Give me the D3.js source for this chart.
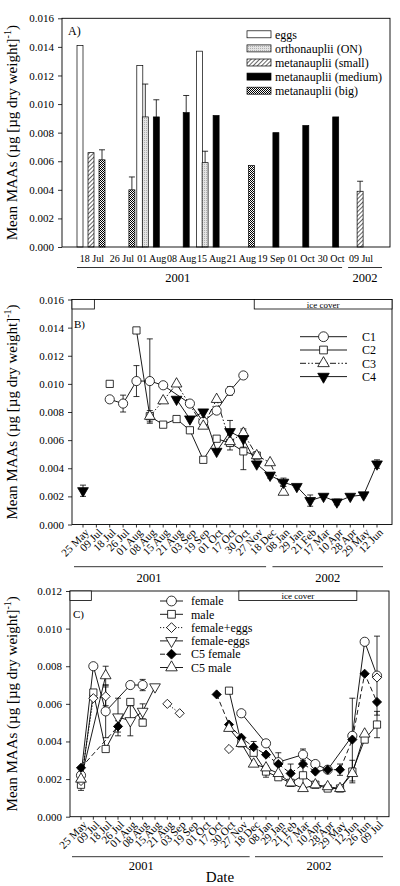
<!DOCTYPE html>
<html><head><meta charset="utf-8">
<script src="https://cdn.jsdelivr.net/npm/d3@7"></script>
<style>
body{margin:0;background:#fff}
svg{display:block}
text{font-family:"Liberation Serif","Times New Roman",serif;fill:#000}
</style>
</head><body>
<svg id="chart" width="400" height="886"></svg>
<script>
// ---------------- DATA ----------------
// Panel A (bar chart)
const datesA = ["18 Jul","26 Jul","01 Aug","08 Aug","15 Aug","21 Aug","19 Sep","01 Oct","30 Oct","09 Jul"];
const seriesA = ["eggs","orthonauplii (ON)","metanauplii (small)","metanauplii (medium)","metanauplii (big)"];
const aEggs    = [0.0141, null, 0.0127, null, 0.0137, null, null, null, null, null];
const aON      = [null, null, 0.0091, null, 0.0059, null, null, null, null, null];
const aONErr   = [null, null, 0.0023, null, 0.0008, null, null, null, null, null];
const aSmall   = [0.0066, null, null, null, null, null, null, null, null, 0.0039];
const aSmallErr= [null, null, null, null, null, null, null, null, null, 0.0007];
const aMedium  = [null, null, 0.0091, 0.0094, 0.0092, null, 0.0080, 0.0085, 0.0091, null];
const aMediumErr=[null, null, 0.0012, 0.0012, null, null, null, null, null, null];
const aBig     = [0.0061, 0.0040, null, null, null, 0.0057, null, null, null, null];
const aBigErr  = [0.0007, 0.0009, null, null, null, null, null, null, null, null];
const yearsA = [{year:"2001", from:0, to:8}, {year:"2002", from:9, to:9}];

// Panel B (copepodite stages)
const datesB = ["25 May","09 Jul","18 Jul","26 Jul","01 Aug","08 Aug","15 Aug","21 Aug","03 Sep","19 Sep","01 Oct","17 Oct","30 Oct","27 Nov","18 Dec","08 Jan","29 Jan","21 Feb","17 Mar","10 Apr","28 Apr","29 May","12 Jun"];
const bC1    = [null,null,0.0089,0.0086,0.0102,0.0102,0.0099,null,0.0086,0.0073,0.0081,0.0095,0.0106,null,null,null,null,null,null,null,null,null,null];
const bC1Err = [null,null,null,0.0006,0.0011,0.0030,null,null,null,null,null,0.0003,null,null,null,null,null,null,null,null,null,null,null];
const bC2    = [null,null,0.0100,null,0.0138,0.0077,0.0071,0.0075,0.0067,0.0046,0.0061,0.0058,0.0052,0.0049,null,null,null,null,null,null,null,null,null];
const bC2Err = [null,null,null,null,null,null,null,null,null,null,null,null,0.0013,null,null,null,null,null,null,null,null,null,null];
const bC3    = [null,null,null,null,null,0.0077,0.0088,0.0100,null,0.0070,0.0089,0.0059,0.0065,0.0049,0.0044,0.0023,null,null,null,null,null,null,null];
const bC3Err = [null,null,null,null,null,0.0004,null,null,null,null,null,0.0006,0.0003,null,null,null,null,null,null,null,null,null,null];
const bC4    = [0.0024,null,null,null,null,null,null,0.0089,0.0075,0.0080,0.0052,0.0066,0.0061,0.0043,0.0035,0.0030,0.0027,0.0017,0.0020,0.0016,0.0020,0.0021,0.0043];
const bC4Err = [0.0004,null,null,null,null,null,null,null,null,null,null,0.0008,0.0006,null,0.0002,0.0003,null,0.0004,null,0.0002,null,null,0.0003];
const yearsB = [{year:"2001", from:0, to:14}, {year:"2002", from:15, to:22}];
const iceB = [{from:null, to:1, label:""}, {from:13, to:null, label:"ice cover"}];

// Panel C (adults & C5)
const datesC = ["25 May","09 Jul","18 Jul","26 Jul","01 Aug","08 Aug","15 Aug","21 Aug","03 Sep","19 Sep","01 Oct","17 Oct","30 Oct","27 Nov","18 Dec","08 Jan","29 Jan","21 Feb","17 Mar","10 Apr","28 Apr","29 May","12 Jun","26 Jun","09 Jul"];
const cFemale    = [0.0022,0.0080,0.0056,null,0.0070,0.0070,null,null,null,null,null,null,null,0.0055,null,0.0039,0.0029,null,0.0033,0.0028,0.0025,null,0.0043,0.0093,0.0075];
const cFemaleErr = [null,null,0.0014,null,null,0.0003,null,null,null,null,null,null,null,null,null,null,null,null,0.0003,null,null,null,null,null,0.0021];
const cMale      = [0.0017,0.0066,0.0036,null,0.0061,0.0050,null,null,null,null,null,null,0.0067,0.0039,0.0034,0.0024,0.0021,0.0018,0.0022,0.0017,0.0015,0.0015,0.0024,0.0041,0.0049];
const cMaleErr   = [0.0003,null,null,null,null,null,null,null,null,null,null,null,null,null,null,0.0003,null,null,0.0006,null,null,null,0.0006,null,0.0007];
const cFemEggs   = [0.0019,0.0063,0.0064,null,null,null,null,0.0060,0.0055,null,null,null,0.0036,null,null,null,null,null,null,null,null,null,null,null,0.0074];
const cFemEggsErr= [null,null,0.0005,null,null,null,null,null,null,null,null,null,null,null,null,null,null,null,null,null,null,null,null,null,null];
const cFemNoEggs = [null,null,null,0.0053,0.0051,0.0056,0.0069,null,null,null,null,null,null,null,null,null,null,null,null,null,null,null,null,null,null];
const cFemNoEggsErr=[null,null,null,0.0010,0.0008,0.0004,null,null,null,null,null,null,null,null,null,null,null,null,null,null,null,null,null,null,null];
const cC5Female  = [0.0026,null,null,0.0048,null,null,null,null,null,null,null,0.0065,0.0049,0.0042,0.0037,0.0033,0.0028,0.0023,0.0028,0.0024,0.0025,0.0025,0.0041,0.0076,0.0061];
const cC5FemaleErr=[null,null,null,0.0003,null,null,null,null,null,null,null,null,null,null,0.0003,null,0.0006,0.0005,null,null,null,0.0003,0.0022,null,null];
const cC5Male    = [0.0020,null,0.0075,null,null,null,null,null,null,null,null,null,0.0047,0.0039,0.0028,0.0026,0.0023,0.0018,0.0015,0.0017,0.0016,0.0015,0.0023,0.0044,null];
const cC5MaleErr = [null,null,0.0005,null,null,null,null,null,null,null,null,null,null,null,null,null,null,null,null,null,null,null,null,null,null];
const yearsC = [{year:"2001", from:0, to:14}, {year:"2002", from:15, to:24}];
const iceC = [{from:null, to:1, label:""}, {from:13, to:22, label:"ice cover"}];

const ticksA = [0,0.002,0.004,0.006,0.008,0.010,0.012,0.014,0.016];
const ticksB = ticksA;
const ticksC = [0,0.002,0.004,0.006,0.008,0.010,0.012];

// ---------------- DRAW ----------------
const svg = d3.select("#chart");
svg.append("rect").attr("width",400).attr("height",886).attr("fill","#fff");
const defs = svg.append("defs");

const pON = defs.append("pattern").attr("id","pON").attr("patternUnits","userSpaceOnUse").attr("width",2).attr("height",2);
pON.append("rect").attr("width",2).attr("height",2).attr("fill","#e4e4e4");
pON.append("rect").attr("width",1).attr("height",1).attr("fill","#b0b0b0");
const pSmall = defs.append("pattern").attr("id","pSmall").attr("patternUnits","userSpaceOnUse").attr("width",3).attr("height",3).attr("patternTransform","rotate(45)");
pSmall.append("rect").attr("width",3).attr("height",3).attr("fill","#fff");
pSmall.append("line").attr("x1",0).attr("y1",0).attr("x2",0).attr("y2",3).attr("stroke","#000").attr("stroke-width",1.2);
const pBig = defs.append("pattern").attr("id","pBig").attr("patternUnits","userSpaceOnUse").attr("width",2).attr("height",2);
pBig.append("rect").attr("width",2).attr("height",2).attr("fill","#fff");
pBig.append("rect").attr("width",1).attr("height",1).attr("fill","#000");
pBig.append("rect").attr("x",1).attr("y",1).attr("width",1).attr("height",1).attr("fill","#000");

const fillsA = {"eggs":"#fff","orthonauplii (ON)":"url(#pON)","metanauplii (small)":"url(#pSmall)","metanauplii (medium)":"#000","metanauplii (big)":"url(#pBig)"};
const valsA = {"eggs":[aEggs,null],"orthonauplii (ON)":[aON,aONErr],"metanauplii (small)":[aSmall,aSmallErr],"metanauplii (medium)":[aMedium,aMediumErr],"metanauplii (big)":[aBig,aBigErr]};

function yTitle(cy){
  const t = svg.append("text").attr("transform",`translate(17,${cy}) rotate(-90)`).attr("text-anchor","middle").attr("font-size",15);
  t.append("tspan").text("Mean MAAs (µg [µg dry weight]");
  t.append("tspan").attr("font-size",10).attr("dy",-6).text("-1");
  t.append("tspan").attr("dy",6).text(")");
}
function leftAxis(y, x0, ticks){
  const g = svg.append("g").attr("transform",`translate(${x0},0)`)
    .call(d3.axisLeft(y).tickValues(ticks).tickFormat(d3.format(".3f")).tickSize(4).tickPadding(4));
  g.select(".domain").remove();
  g.selectAll("text").attr("font-size",11).attr("font-family","Liberation Serif");
  g.selectAll("line").attr("stroke","#000").attr("stroke-width",0.8);
}
function frame(x0,x1,y0,y1){
  svg.append("rect").attr("x",x0).attr("y",y1).attr("width",x1-x0).attr("height",y0-y1)
    .attr("fill","none").attr("stroke","#000").attr("stroke-width",0.9);
}

// ===== Panel A =====
const A = {l:62, r:390, t:18.3, b:247};
const xA = d3.scaleBand().domain(d3.range(datesA.length)).range([77, 376]).padding(0);
const xA1 = d3.scaleBand().domain(seriesA).range([0, 27.5]);
const yA = d3.scaleLinear().domain([0,0.016]).range([A.b, A.t]);
const barW = 6;
const gA = svg.append("g");
seriesA.forEach(s=>{
  const [vals, errs] = valsA[s];
  datesA.forEach((d,i)=>{
    const v = vals[i]; if(v==null) return;
    const bx = xA(i)+xA1(s);
    if(errs && errs[i]!=null){
      const cx = bx+barW/2;
      gA.append("line").attr("x1",cx).attr("x2",cx).attr("y1",yA(v)).attr("y2",yA(v+errs[i])).attr("stroke","#000").attr("stroke-width",0.8);
      gA.append("line").attr("x1",cx-3).attr("x2",cx+3).attr("y1",yA(v+errs[i])).attr("y2",yA(v+errs[i])).attr("stroke","#000").attr("stroke-width",0.8);
    }
    gA.append("rect").attr("x",bx).attr("y",yA(v)).attr("width",barW).attr("height",yA(0)-yA(v))
      .attr("fill",fillsA[s]).attr("stroke","#000").attr("stroke-width",0.7);
  });
});
frame(A.l,A.r,A.b,A.t);
leftAxis(yA, A.l, ticksA);
yTitle((A.t+A.b)/2);
svg.append("text").attr("x",68).attr("y",35).attr("font-size",12).text("A)");
datesA.forEach((d,i)=>{
  svg.append("text").attr("x",xA(i)+xA.bandwidth()/2).attr("y",262).attr("text-anchor","middle").attr("font-size",10).text(d);
});
yearsA.forEach((yr,k)=>{
  const x0 = xA(yr.from) + (k===0?0:2), x1 = xA(yr.to)+xA.bandwidth() + (k===0?-4:6);
  svg.append("line").attr("x1",x0).attr("x2",x1).attr("y1",267.5).attr("y2",267.5).attr("stroke","#000").attr("stroke-width",0.8);
  svg.append("text").attr("x",x0+(x1-x0)*(k===0?0.38:0.5)).attr("y",281.5).attr("text-anchor","middle").attr("font-size",12.5).text(yr.year);
});
seriesA.forEach((s,k)=>{
  const ly = 34.3 + k*14.1;
  svg.append("rect").attr("x",247).attr("y",ly-3.5).attr("width",24).attr("height",7).attr("fill",fillsA[s]).attr("stroke","#000").attr("stroke-width",0.7);
  svg.append("text").attr("x",275).attr("y",ly).attr("dy","0.35em").attr("font-size",12).text(s);
});

// ===== symbol helpers =====
function symPath(kind, size){
  const map = {circle:d3.symbolCircle, square:d3.symbolSquare, tri:d3.symbolTriangle, triDown:d3.symbolTriangle, diamond:d3.symbolSquare};
  return d3.symbol().type(map[kind]).size(size)();
}
function symRot(kind){ return kind==="triDown" ? 180 : (kind==="diamond" ? 45 : 0); }
const symSize = {circle:66, square:52, tri:50, triDown:50, diamond:42};

function drawLinePanel(cfg){
  const {x, y, dates, series} = cfg;
  const g = svg.append("g");
  const prepared = series.map(s=>{
    const pts = dates.map((d,i)=>({i, v:s.values[i], e:s.err?s.err[i]:null})).filter(p=>p.v!=null);
    const segs=[]; let cur=[];
    pts.forEach((p,k)=>{ if(k>0 && p.i-pts[k-1].i > s.maxGap){ segs.push(cur); cur=[]; } cur.push(p); });
    if(cur.length) segs.push(cur);
    return {s, pts, segs};
  });
  const line = d3.line().x(p=>x(p.i)).y(p=>y(p.v));
  prepared.forEach(({s,segs})=>{
    segs.filter(sg=>sg.length>1).forEach(sg=>{
      g.append("path").attr("d",line(sg)).attr("fill","none").attr("stroke","#000").attr("stroke-width",0.9)
        .attr("stroke-dasharray", s.dash||null);
    });
  });
  prepared.forEach(({pts})=>{
    pts.filter(p=>p.e!=null).forEach(p=>{
      const cx = x(p.i), y1 = y(p.v+p.e), y2 = y(Math.max(0,p.v-p.e));
      g.append("line").attr("x1",cx).attr("x2",cx).attr("y1",y1).attr("y2",y2).attr("stroke","#000").attr("stroke-width",0.8);
      [y1,y2].forEach(yy=>g.append("line").attr("x1",cx-3).attr("x2",cx+3).attr("y1",yy).attr("y2",yy).attr("stroke","#000").attr("stroke-width",0.8));
    });
  });
  prepared.forEach(({s,pts})=>{
    pts.forEach(p=>{
      g.append("path").attr("d",symPath(s.sym, symSize[s.sym]))
        .attr("transform",`translate(${x(p.i)},${y(p.v)}) rotate(${symRot(s.sym)})`)
        .attr("fill",s.fill).attr("stroke","#000").attr("stroke-width",0.8);
    });
  });
}
function bottomLabels(x, dates, y0){
  dates.forEach((d,i)=>{
    const xx = x(i);
    svg.append("line").attr("x1",xx).attr("x2",xx).attr("y1",y0).attr("y2",y0+3).attr("stroke","#000").attr("stroke-width",0.8);
    svg.append("text").attr("transform",`translate(${xx+4},${y0+6}) rotate(-45)`).attr("text-anchor","end").attr("dy","0.35em").attr("font-size",11).text(d);
  });
}
function yearLines(x, years, ly, ty){
  years.forEach((yr,k)=>{
    const x0 = x(yr.from) + (k===0?-9:-11), x1 = x(yr.to) + (k===0?-4:6);
    svg.append("line").attr("x1",x0).attr("x2",x1).attr("y1",ly).attr("y2",ly).attr("stroke","#000").attr("stroke-width",0.8);
    svg.append("text").attr("x",x0+(x1-x0)*(k===0?0.39:0.5)).attr("y",ty).attr("text-anchor","middle").attr("font-size",12.5).text(yr.year);
  });
}
function iceBoxes(x, ice, l, r, top){
  ice.forEach(b=>{
    const x0 = b.from==null ? l : x(b.from)-2.5;
    const x1 = b.to==null ? r : x(b.to)+(b.from==null?-2:4.5);
    svg.append("rect").attr("x",x0).attr("y",top).attr("width",x1-x0).attr("height",9.5).attr("fill","#fff").attr("stroke","#000").attr("stroke-width",0.8);
    if(b.label) svg.append("text").attr("x",(x0+x1)/2).attr("y",top+5).attr("dy","0.35em").attr("text-anchor","middle").attr("font-size",9).text(b.label);
  });
}
function legendLines(items, x0, x1, tx, y0, dy){
  items.forEach((s,k)=>{
    const ly = y0 + k*dy;
    svg.append("line").attr("x1",x0).attr("x2",x1).attr("y1",ly).attr("y2",ly).attr("stroke","#000").attr("stroke-width",0.9).attr("stroke-dasharray",s.dash||null);
    svg.append("path").attr("d",symPath(s.sym, symSize[s.sym]*1.15)).attr("transform",`translate(${(x0+x1)/2},${ly}) rotate(${symRot(s.sym)})`)
      .attr("fill",s.fill).attr("stroke","#000").attr("stroke-width",0.8);
    svg.append("text").attr("x",tx).attr("y",ly).attr("dy","0.35em").attr("font-size",12).text(s.name);
  });
}

// ===== Panel B =====
const B = {l:72, r:392, t:299.5, b:524.5};
const xB = d3.scalePoint().domain(d3.range(datesB.length)).range([83, 377]);
const yB = d3.scaleLinear().domain([0,0.016]).range([B.b, B.t]);
const seriesB = [
  {name:"C1", values:bC1, err:bC1Err, sym:"circle", fill:"#fff", dash:null, maxGap:2},
  {name:"C2", values:bC2, err:bC2Err, sym:"square", fill:"#fff", dash:null, maxGap:1},
  {name:"C3", values:bC3, err:bC3Err, sym:"tri", fill:"#fff", dash:"6,2,1.5,2,1.5,2", maxGap:2},
  {name:"C4", values:bC4, err:bC4Err, sym:"triDown", fill:"#000", dash:null, maxGap:1}
];
drawLinePanel({x:xB, y:yB, dates:datesB, series:seriesB});
frame(B.l,B.r,B.b,B.t);
iceBoxes(xB, iceB, B.l, B.r, B.t);
leftAxis(yB, B.l, ticksB);
yTitle((B.t+B.b)/2);
svg.append("text").attr("x",74).attr("y",328).attr("font-size",11).text("B)");
bottomLabels(xB, datesB, B.b);
yearLines(xB, yearsB, 566.7, 582);
legendLines(seriesB, 300, 347, 362, 336.7, 13.3);

// ===== Panel C =====
const Cp = {l:70, r:389, t:591, b:816.7};
const xC = d3.scalePoint().domain(d3.range(datesC.length)).range([81, 377]);
const yC = d3.scaleLinear().domain([0,0.012]).range([Cp.b, Cp.t]);
const seriesC = [
  {name:"female", values:cFemale, err:cFemaleErr, sym:"circle", fill:"#fff", dash:null, maxGap:3},
  {name:"male", values:cMale, err:cMaleErr, sym:"square", fill:"#fff", dash:null, maxGap:3},
  {name:"female+eggs", values:cFemEggs, err:cFemEggsErr, sym:"diamond", fill:"#fff", dash:"1.2,1.8", maxGap:3},
  {name:"female-eggs", values:cFemNoEggs, err:cFemNoEggsErr, sym:"triDown", fill:"#fff", dash:null, maxGap:3},
  {name:"C5 female", values:cC5Female, err:cC5FemaleErr, sym:"diamond", fill:"#000", dash:"5,3", maxGap:3},
  {name:"C5 male", values:cC5Male, err:cC5MaleErr, sym:"tri", fill:"#fff", dash:null, maxGap:3}
];
drawLinePanel({x:xC, y:yC, dates:datesC, series:seriesC});
frame(Cp.l,Cp.r,Cp.b,Cp.t);
iceBoxes(xC, iceC, Cp.l, Cp.r, Cp.t);
leftAxis(yC, Cp.l, ticksC);
yTitle((Cp.t+Cp.b)/2);
svg.append("text").attr("x",73).attr("y",618).attr("font-size",11).text("C)");
bottomLabels(xC, datesC, Cp.b);
yearLines(xC, yearsC, 856.7, 870);
svg.append("text").attr("x",220).attr("y",882).attr("text-anchor","middle").attr("font-size",15).text("Date");
legendLines(seriesC, 160, 183, 191, 601, 13.3);
</script>
</body></html>
